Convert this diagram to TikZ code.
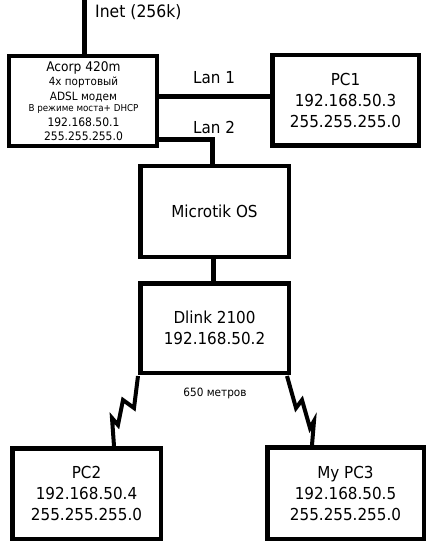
\documentclass[tikz,border=0pt]{standalone}
\usepackage{fontspec}
\setmainfont{DejaVu Sans}[FakeStretch=0.92]
\usetikzlibrary{calc}
\begin{document}
\begin{tikzpicture}[x=1pt,y=-1pt,
  box/.style={draw, line width=4.5pt, inner sep=0pt, align=center, font=\fontsize{16.5}{21}\selectfont},
  conn/.style={line width=5pt},
  bolt/.style={line width=4pt, line join=miter, miter limit=6},
  lbl/.style={inner sep=0pt, font=\fontsize{16.5}{18}\selectfont},
  atxt/.style={inner sep=0pt, anchor=base}]
\useasboundingbox (0,0) rectangle (429,545);
% boxes
\node[box, minimum width=148pt, minimum height=90pt] (acorp) at (83,101) {};
\node[box, minimum width=146.5pt, minimum height=90.5pt] (pc1) at (345.5,100.5) {PC1\\192.168.50.3\\255.255.255.0};
\node[box, minimum width=148.5pt, minimum height=90.5pt] (microtik) at (214.5,211.5) {Microtik OS};
\node[box, minimum width=148.5pt, minimum height=89.5pt] (dlink) at (214.5,328) {Dlink 2100\\192.168.50.2};
\node[box, minimum width=148.5pt, minimum height=90.5pt] (pc2) at (86.5,493.5) {PC2\\192.168.50.4\\255.255.255.0};
\node[box, minimum width=156.5pt, minimum height=91.5pt] (pc3) at (345.5,493) {My PC3\\192.168.50.5\\255.255.255.0};
% Acorp text
\node[atxt, font=\fontsize{13.3}{14}\selectfont] (a1) at (83.5,72) {Acorp 420m};
\node[atxt, font=\fontsize{11.3}{12}\selectfont] (a2) at (83.5,85.5) {4x портовый};
\node[atxt, font=\fontsize{11.4}{12}\selectfont] (a3) at (83.5,100.5) {ADSL модем};
\node[atxt, font=\fontsize{9.5}{10}\selectfont] (a4) at (83.5,111.5) {В режиме моста+ DHCP};
\node[atxt, font=\fontsize{11.7}{12}\selectfont] (a5) at (83.5,126.5) {192.168.50.1};
\node[atxt, font=\fontsize{11.7}{12}\selectfont] (a6) at (83.5,140.5) {255.255.255.0};
% labels
\node[lbl, anchor=west, font=\fontsize{17}{18}\selectfont] (inet) at (95,12) {Inet (256k)};
\node[lbl] (lan1) at (214,78) {Lan 1};
\node[lbl] (lan2) at (214,127) {Lan 2};
\node[inner sep=0pt, font=\fontsize{11.4}{12}\selectfont] (dist) at (215,393) {650 метров};
% connectors
\coordinate (inettop) at (84.5,0);
\draw[conn] (inettop) -- (inettop |- acorp.north);
\draw[conn] ($(acorp.east)+(0,-4)$) -- ($(pc1.west)+(0,-3.5)$);
\draw[conn] ($(acorp.east)+(0,39)$) -| ($(microtik.north)+(-2,0)$);
\draw[conn] ($(microtik.south)+(-1,0)$) -- ($(dlink.north)+(-1,0)$);
% wireless bolts
\draw[bolt] ($(dlink.south west)+(0,1)$) -- ++(-4,32) -- ++(-11,-8) -- ++(-5,25) -- ++(-6,-7) -- ($(pc2.north)+(27.5,0)$);
\draw[bolt] ($(dlink.south east)+(-4,1)$) -- ++(9,32) -- ++(6,-8) -- ++(8,28) -- ++(4,-7) -- ($(pc3.north)+(-33.5,0)$);
\end{tikzpicture}
\end{document}
